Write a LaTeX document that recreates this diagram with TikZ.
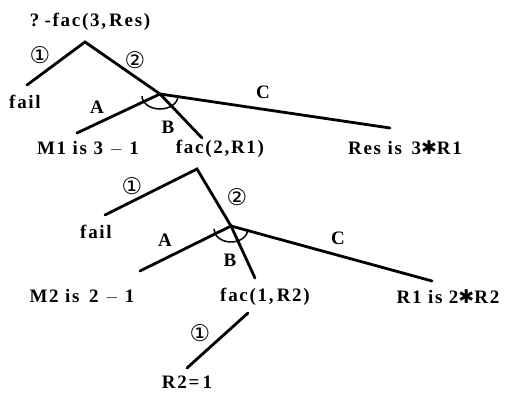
\documentclass[tikz,border=0pt]{standalone}
\usepackage{fontspec}
\setmainfont{Liberation Serif}[LetterSpace=9]
\newfontfamily\simbolos{DejaVu Sans}
\tikzset{
  ramo/.style={line width=2.8pt, line cap=round},
  laco/.style={line width=1.5pt},
  meta/.style={font=\fontsize{19}{21}\selectfont\bfseries, inner sep=1pt},
  rotulo/.style={font=\fontsize{19}{21}\selectfont\bfseries, inner sep=1pt},
  numero/.style={font=\fontsize{23}{25}\selectfont\simbolos, inner sep=0pt}
}
\begin{document}
\begin{tikzpicture}[x=1pt, y=1pt]
\useasboundingbox (0,0) rectangle (514,393);
% Nivel 1: consulta ?-fac(3,Res)
\node[meta] (g1) at (90,371) {?\;-fac(3,\,Res)};
\coordinate (r1) at (85,351);
\coordinate (f1) at (27,308);
\coordinate (e1) at (160,299);
\node[meta] (fail1) at (25,291) {fail};
\draw[ramo] (f1) -- (r1) -- (e1);
\node[numero] (n11) at (40,338) {①};
\node[numero] (n12) at (135,333) {②};
% Ramos A, B e C da primeira clausula
\coordinate (a1) at (77,260);
\coordinate (b1) at (202,255);
\coordinate (c1) at (390,265);
\draw[ramo] (e1) -- (a1);
\draw[ramo] (e1) -- (b1);
\draw[ramo] (e1) -- (c1);
\draw[laco] (e1) ++(-18,-2) arc[start angle=180, end angle=360, x radius=18pt, y radius=13pt];
\node[rotulo] (la1) at (97,286) {A};
\node[rotulo] (lb1) at (168,266) {B};
\node[rotulo] (lc1) at (263,301) {C};
\node[meta] (m1) at (88,244) {M1 is 3 $-$ 1};
\node[meta] (fac2) at (220,244) {fac(2,R1)};
\node[meta] (res) at (405,245) {Res is\, 3{\simbolos ✱}R1};
% Nivel 2: fac(2,R1)
\coordinate (r2) at (197,224);
\coordinate (f2) at (105,178);
\coordinate (e2) at (231,167);
\node[meta] (fail2) at (96,161) {fail};
\draw[ramo] (f2) -- (r2) -- (e2);
\node[numero] (n21) at (132,207) {①};
\node[numero] (n22) at (237,196) {②};
\coordinate (a2) at (140,122);
\coordinate (b2) at (255,115);
\coordinate (c2) at (432,112);
\draw[ramo] (e2) -- (a2);
\draw[ramo] (e2) -- (b2);
\draw[ramo] (e2) -- (c2);
\draw[laco] (e2) ++(-17,-3) arc[start angle=180, end angle=360, x radius=17pt, y radius=13pt];
\node[rotulo] (la2) at (165,153) {A};
\node[rotulo] (lb2) at (230,133) {B};
\node[rotulo] (lc2) at (338,155) {C};
\node[meta] (m2) at (82,96) {M2 is\, 2 $-$ 1};
\node[meta] (fac1) at (265,96) {fac(1,\,R2)};
\node[meta] (r1is) at (448,96) {R1 is 2{\simbolos ✱}R2};
% Nivel 3: fac(1,R2)
\coordinate (t3) at (248,80);
\coordinate (f3) at (187,25);
\draw[ramo] (t3) -- (f3);
\node[numero] (n31) at (200,60) {①};
\node[meta] (r2is) at (187,11) {R2=\,1};
\end{tikzpicture}
\end{document}
